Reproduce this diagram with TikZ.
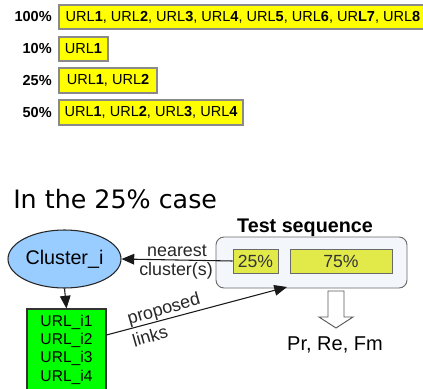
\documentclass[tikz,border=0pt]{standalone}
\usepackage{fontspec}
\setmainfont{Liberation Sans}
\newfontfamily\dejavu{DejaVu Sans}
\usetikzlibrary{fit,shapes.geometric,arrows.meta}
\def\pxu{0.75pt}
\definecolor{barfill}{HTML}{FFFF00}
\definecolor{barline}{HTML}{8A8A8A}
\definecolor{seqfill}{HTML}{F3F6FB}
\definecolor{seqline}{HTML}{6A6A6A}
\definecolor{cellfill}{HTML}{E2EA4A}
\definecolor{celltext}{HTML}{333333}
\definecolor{clusterfill}{HTML}{99CCFF}
\definecolor{urlfill}{HTML}{00FF00}
\begin{document}
\begin{tikzpicture}[x=0.75pt, y=-0.75pt,
  bar/.style={draw=barline, fill=barfill, inner sep=0pt, line width=0.8pt},
  bartext/.style={inner sep=0pt, font=\fontsize{10.9}{13}\selectfont},
  pct/.style={anchor=east, inner sep=0pt, font=\fontsize{10.9}{13}\selectfont\bfseries},
  seqbox/.style={draw=seqline, fill=seqfill, rounded corners=6pt, inner sep=0pt, line width=0.7pt},
  cell/.style={draw=seqline, fill=cellfill, inner sep=0pt, line width=0.7pt},
  celltxt/.style={inner sep=0pt, text=celltext, font=\fontsize{13.2}{15}\selectfont},
  lbl/.style={inner sep=0pt, font=\fontsize{13.4}{15}\selectfont, text=black!85},
  link/.style={draw=black!90, line width=0.8pt, -{Triangle[length=9.5pt, width=8pt]}}]
\useasboundingbox (0,0) rectangle (423,388);

% sampled URL lists
\node[bar, fit={(59,5) (427,29)}] (b100) {};
\node[bar, fit={(59,37) (108,61)}] (b10) {};
\node[bar, fit={(59,68) (157,93)}] (b25) {};
\node[bar, fit={(59,100) (243,125)}] (b50) {};
\node[bartext] (t100) at (b100.center)
  {URL\textbf{1}, URL\textbf{2}, URL\textbf{3}, URL\textbf{4}, URL\textbf{5}, URL\textbf{6}, UR\textbf{L7}, URL\textbf{8}};
\node[bartext] (t10) at (b10.center) {URL\textbf{1}};
\node[bartext] (t25) at (b25.center) {URL\textbf{1}, URL\textbf{2}};
\node[bartext] (t50) at (b50.center) {URL\textbf{1}, URL\textbf{2}, URL\textbf{3}, URL\textbf{4}};
\node[pct] (p100) at (52,17) {100\%};
\node[pct] (p10) at (52,49) {10\%};
\node[pct] (p25) at (52,80) {25\%};
\node[pct] (p50) at (52,112) {50\%};

% heading
\node[anchor=west, inner sep=0pt, font=\dejavu\fontsize{19}{22}\selectfont] (head) at (13,199) {In the 25\% case};

% test sequence
\node[inner sep=0pt, font=\fontsize{14.8}{17}\selectfont\bfseries] (seqtitle) at (305,228) {Test sequence};
\node[seqbox, fit={(216,237) (407,288)}] (seq) {};
\node[cell, fit={(233,249) (278,273)}] (c25) {};
\node[cell, fit={(290,249) (392,273)}] (c75) {};
\node[celltxt] (c25t) at (c25.center) {25\%};
\node[celltxt] (c75t) at (c75.center) {75\%};

% cluster and its URLs
\node[ellipse, draw=black!85, fill=clusterfill, line width=0.8pt, inner sep=0pt,
  minimum width=113*\pxu, minimum height=58*\pxu, font=\fontsize{14.8}{17}\selectfont]
  (cl) at (64.5,259) {Cluster\_i};
\node[draw=black!80, fill=urlfill, line width=0.8pt, inner sep=0pt, fit={(27,309) (106,392)}] (urls) {};
\node[align=center, inner sep=0pt, font=\fontsize{11.7}{13.7}\selectfont] (urltext) at (66.5,349.5)
  {URL\_i1\\URL\_i2\\URL\_i3\\URL\_i4};

% connectors
\draw[link] (c25.west) -- (cl.east);
\node[lbl] (near) at (177,251) {nearest};
\node[lbl] (clus) at (176,271) {cluster(s)};
\draw[link] (cl.south) -- (urls.north);
\coordinate (lstart) at (106.5,335);
\coordinate (lend) at (287,287);
\draw[link] (lstart) -- (lend);
\node[lbl, rotate=16] (prop) at (164,310) {proposed};
\node[lbl, rotate=16] (links) at (150,336) {links};

% evaluation
\draw[draw=black!65, fill=white, line width=0.7pt]
  (328,291) -- (344,291) -- (344,317) -- (353,317) -- (336,328) -- (319,317) -- (328,317) -- cycle;
\node[inner sep=0pt, font=\fontsize{15}{17}\selectfont] (prf) at (335,345) {Pr, Re, Fm};
\end{tikzpicture}
\end{document}
